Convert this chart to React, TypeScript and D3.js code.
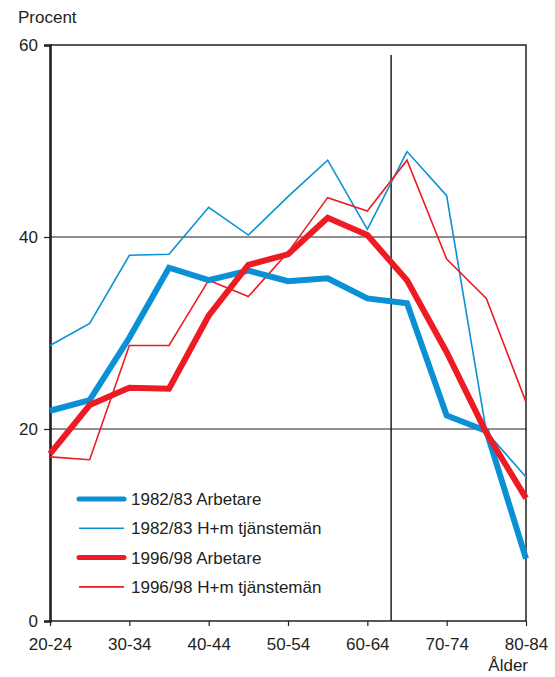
import React, { useEffect, useRef } from 'react';
import * as d3 from 'd3';

// age groups along the x axis
const ages = ['20-24', '25-29', '30-34', '35-39', '40-44', '45-49', '50-54', '55-59', '60-64', '65-69', '70-74', '75-79', '80-84'];
const tickAges = ['20-24', '30-34', '40-44', '50-54', '60-64', '70-74', '80-84'];
const yTicks = [0, 20, 40, 60];

const arb8283 = [21.9, 23.0, 29.5, 36.8, 35.5, 36.5, 35.4, 35.7, 33.6, 33.1, 21.4, 19.8, 6.5];
const tjm8283 = [28.7, 31.0, 38.1, 38.2, 43.1, 40.2, 44.2, 48.0, 40.8, 48.9, 44.3, 19.7, 15.0];
const arb9698 = [17.4, 22.5, 24.3, 24.2, 31.8, 37.1, 38.2, 42.0, 40.2, 35.5, 28.0, 19.6, 12.8];
const tjm9698 = [17.1, 16.8, 28.7, 28.7, 35.5, 33.8, 38.4, 44.1, 42.7, 48.0, 37.7, 33.6, 22.8];

const seriesNames = ['1982/83 Arbetare', '1982/83 H+m tjänstemän', '1996/98 Arbetare', '1996/98 H+m tjänstemän'];

const BLUE = '#0a91d5';
const RED = '#ed1c24';
const INK = '#231f20';

const App = () => {
  const ref = useRef<SVGSVGElement>(null);

  useEffect(() => {
    const width = 555;
    const height = 677;
    const left = 50, right = 526, top = 45, bottom = 621;
    const font = '"Liberation Sans", Arial, sans-serif';

    const svg = d3.select(ref.current);
    svg.selectAll('*').remove();
    svg.attr('width', width).attr('height', height);

    const x = d3.scalePoint<string>().domain(ages).range([left, right]);
    const y = d3.scaleLinear().domain([0, 60]).range([bottom, top]);

    // gridlines at 20 and 40, plus frame
    svg.append('g')
      .selectAll('line')
      .data([20, 40])
      .enter()
      .append('line')
      .attr('x1', left).attr('x2', right)
      .attr('y1', d => y(d)).attr('y2', d => y(d))
      .attr('stroke', INK).attr('stroke-width', 1.2);

    svg.append('path')
      .attr('d', `M${left},${y(60)}H${right}V${y(0)}H${left}`)
      .attr('fill', 'none')
      .attr('stroke', INK)
      .attr('stroke-width', 1.5);

    // retirement marker between 60-64 and 65-69
    const step = x.step();
    const markX = (x('60-64') as number) + step * 0.6;
    svg.append('line')
      .attr('x1', markX).attr('x2', markX)
      .attr('y1', 55).attr('y2', y(0))
      .attr('stroke', INK).attr('stroke-width', 1.5);

    // y axis
    const yAxis = d3.axisLeft(y).tickValues(yTicks).tickSize(6).tickPadding(6).tickFormat(d3.format('d'));
    const gy = svg.append('g').attr('transform', `translate(${left},0)`).call(yAxis);
    gy.select('.domain').attr('stroke', INK).attr('stroke-width', 2.6);
    gy.selectAll('.tick line').attr('stroke', INK).attr('stroke-width', 1.2);
    gy.selectAll('.tick text').attr('fill', INK).style('font-family', font).style('font-size', '17px');

    // x axis
    const xAxis = d3.axisBottom(x).tickValues(tickAges).tickSize(5).tickPadding(12);
    const gx = svg.append('g').attr('transform', `translate(0,${bottom})`).call(xAxis);
    gx.select('.domain').remove();
    gx.selectAll('.tick line').attr('stroke', INK).attr('stroke-width', 1.2);
    gx.selectAll('.tick text').attr('fill', INK).style('font-family', font).style('font-size', '17px');

    svg.append('text')
      .attr('x', 18).attr('y', 23)
      .attr('fill', INK)
      .style('font-family', font).style('font-size', '17px')
      .text('Procent');

    svg.append('text')
      .attr('x', right + 2).attr('y', 671)
      .attr('text-anchor', 'end')
      .attr('fill', INK)
      .style('font-family', font).style('font-size', '17px')
      .text('Ålder');

    // lines
    const line = d3.line<number>()
      .x((d, i) => x(ages[i]) as number)
      .y(d => y(d));

    const series = [
      { name: seriesNames[0], values: arb8283, color: BLUE, w: 6 },
      { name: seriesNames[1], values: tjm8283, color: BLUE, w: 1.6 },
      { name: seriesNames[2], values: arb9698, color: RED, w: 6 },
      { name: seriesNames[3], values: tjm9698, color: RED, w: 1.6 },
    ];

    const drawOrder = [1, 3, 0, 2];
    drawOrder.forEach(k => {
      const s = series[k];
      svg.append('path')
        .datum(s.values)
        .attr('d', line)
        .attr('fill', 'none')
        .attr('stroke', s.color)
        .attr('stroke-width', s.w)
        .attr('stroke-linejoin', 'miter');
    });

    // legend
    const legend = svg.append('g').attr('transform', 'translate(79,499)');
    series.forEach((s, i) => {
      const g = legend.append('g').attr('transform', `translate(0,${i * 29.3})`);
      g.append('line')
        .attr('x1', 0).attr('x2', 45)
        .attr('stroke', s.color)
        .attr('stroke-width', s.w === 6 ? 5 : 1.6)
        .attr('stroke-linecap', s.w === 6 ? 'round' : 'butt');
      g.append('text')
        .attr('x', 52).attr('y', 6)
        .attr('fill', INK)
        .style('font-family', font).style('font-size', '17px')
        .text(s.name);
    });
  }, []);

  return <svg ref={ref} style={{ position: 'absolute', left: 0, top: 0 }} />;
};

export default App;
